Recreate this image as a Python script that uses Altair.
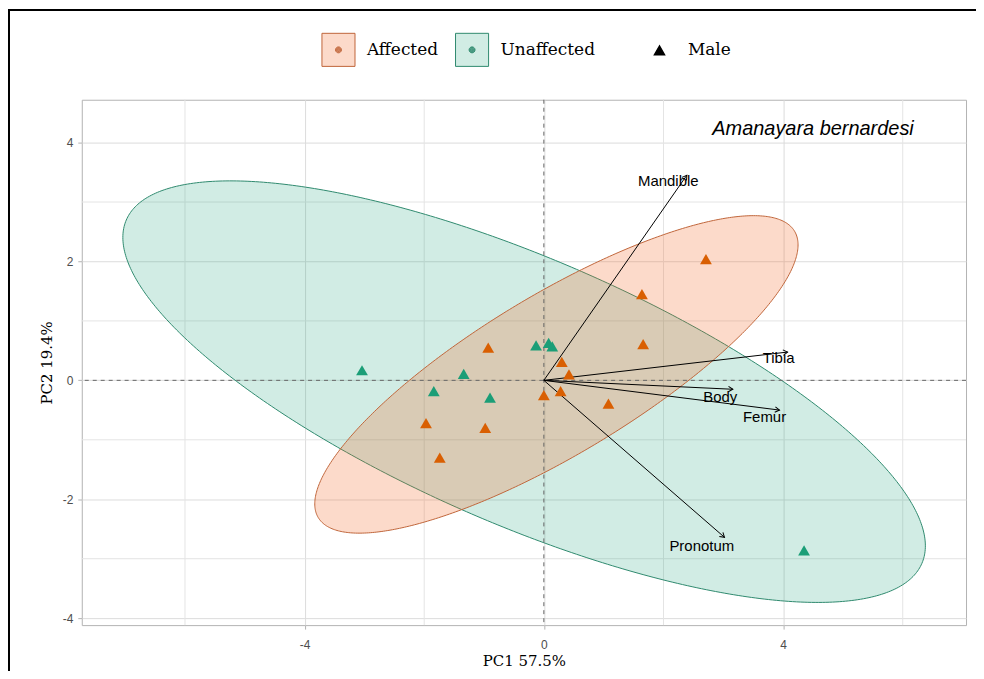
import altair as alt
import pandas as pd
import numpy as np

# ---------------- data ----------------
groups = ["Affected", "Unaffected"]
dark_cols = ["#D95F02", "#1B9E77"]
line_cols = ["#C0653A", "#2F8A6E"]
fill_cols = ["rgba(243,99,35,0.24)", "rgba(27,158,119,0.2)"]

aff_x = [2.71, 1.64, 1.66, 1.08, 0.30, 0.42, 0.28, 0.00, -0.93, -1.97, -0.98, -1.74]
aff_y = [2.04, 1.45, 0.61, -0.39, 0.31, 0.10, -0.18, -0.25, 0.55, -0.72, -0.80, -1.30]
una_x = [-3.04, -1.34, -1.84, -0.90, -0.13, 0.08, 0.14, 4.35]
una_y = [0.17, 0.11, -0.18, -0.29, 0.59, 0.63, 0.57, -2.86]

# ellipse (stat_ellipse) centres and covariance-like shape terms
ell_cx = [0.21, -0.33]
ell_cy = [0.10, -0.19]
ell_sxx = [16.32, 45.0]
ell_syy = [7.13, 12.57]
ell_sxy = [8.8, -17.4]

# variable loadings (arrow tips) and their label positions
var_names = ["Mandible", "Tibia", "Body", "Femur", "Pronotum"]
var_x = [2.39, 4.075, 3.16, 3.94, 3.02]
var_y = [3.45, 0.476, -0.15, -0.50, -2.64]
lab_x = [2.08, 3.925, 2.95, 3.69, 2.64]
lab_y = [3.36, 0.37, -0.28, -0.62, -2.78]

x_major = [-4, 0, 4]
x_minor = [-6, -2, 2, 6]
y_major = [-4, -2, 0, 2, 4]
y_minor = [-3, -1, 1, 3]
x_dom = [-7.725, 7.058]
y_dom = [-4.117, 4.72]

title_txt = "Amanayara bernardesi"
title_x, title_y = 4.5, 4.235

# ---------------- tables ----------------
pts = pd.DataFrame({
    "x": aff_x + una_x,
    "y": aff_y + una_y,
    "group": ["Affected"] * len(aff_x) + ["Unaffected"] * len(una_x),
    "sex": ["Male"] * (len(aff_x) + len(una_x)),
})

def ellipse_df(i):
    s = np.linspace(0, np.pi, 241)
    W = np.sqrt(ell_sxx[i])
    dx = -W * np.cos(s)
    mid = ell_cy[i] + ell_sxy[i] / ell_sxx[i] * dx
    half = np.sqrt(ell_syy[i] - ell_sxy[i] ** 2 / ell_sxx[i]) * np.sin(s)
    return pd.DataFrame({"x": ell_cx[i] + dx, "y": mid + half, "y2": mid - half,
                         "group": groups[i]})

arrows = pd.DataFrame({"name": var_names, "x0": 0.0, "y0": 0.0, "x": var_x, "y": var_y,
                       "lx": lab_x, "ly": lab_y})
arrows["ang"] = (np.degrees(np.arctan2(arrows["x"], arrows["y"])) + 360) % 360

xs = alt.Scale(domain=x_dom, nice=False, zero=False)
ys = alt.Scale(domain=y_dom, nice=False, zero=False)

X = lambda f="x", **k: alt.X(f"{f}:Q", scale=xs, **k)
Y = lambda f="y", **k: alt.Y(f"{f}:Q", scale=ys, **k)

def circ(r):
    return f"M{r},0A{r},{r},0,1,1,-{r},0A{r},{r},0,1,1,{r},0Z"

legend_path = ("M-1,-1H1V1H-1Z" + circ(0.18) + circ(0.14) + circ(0.10) + circ(0.06)
               + circ(0.02))

grp_legend = alt.Legend(orient="none", legendX=240, legendY=-68, direction="horizontal",
                        title=None, symbolType=legend_path, symbolSize=1100,
                        symbolStrokeWidth=1, labelFont="DejaVu Serif", labelFontSize=17,
                        labelColor="black", labelOffset=11, columnPadding=14, padding=0)

fill_enc = alt.Fill("group:N", scale=alt.Scale(domain=groups, range=fill_cols), legend=grp_legend)
stroke_enc = alt.Stroke("group:N", scale=alt.Scale(domain=groups, range=line_cols), legend=grp_legend)

# minor grid
minor_x = alt.Chart(pd.DataFrame({"v": x_minor})).mark_rule(color="#E4E4E4", strokeWidth=1).encode(
    x=alt.X("v:Q", scale=xs))
minor_y = alt.Chart(pd.DataFrame({"v": y_minor})).mark_rule(color="#E4E4E4", strokeWidth=1).encode(
    y=alt.Y("v:Q", scale=ys))

ell_green = alt.Chart(ellipse_df(1)).mark_area(strokeWidth=1, opacity=1).encode(
    x=X("x", axis=alt.Axis(values=x_major, title="PC1 57.5%", labelExpr="'' + datum.value",
                           labelPadding=10, titlePadding=4)),
    y=Y("y", axis=alt.Axis(values=y_major, title="PC2 19.4%", labelExpr="'' + datum.value",
                           labelPadding=5, titlePadding=8)),
    y2="y2:Q", fill=fill_enc, stroke=stroke_enc)
ell_orange = alt.Chart(ellipse_df(0)).mark_area(strokeWidth=1, opacity=1).encode(
    x=X("x"), y=Y("y"), y2="y2:Q", fill=fill_enc, stroke=stroke_enc)

zero_x = alt.Chart(pd.DataFrame({"v": [0]})).mark_rule(color="#666666", strokeDash=[4, 4], strokeWidth=1).encode(
    x=alt.X("v:Q", scale=xs))
zero_y = alt.Chart(pd.DataFrame({"v": [0]})).mark_rule(color="#666666", strokeDash=[4, 4], strokeWidth=1).encode(
    y=alt.Y("v:Q", scale=ys))

points = alt.Chart(pts).mark_point(filled=True, size=140, opacity=1).encode(
    x=X("x"), y=Y("y"),
    color=alt.Color("group:N", scale=alt.Scale(domain=groups, range=dark_cols), legend=None),
    shape=alt.Shape("sex:N", scale=alt.Scale(domain=["Male"], range=["triangle-up"]),
                    legend=alt.Legend(orient="none", legendX=571, legendY=-58, title=None,
                                      symbolFillColor="black", symbolStrokeColor="black",
                                      symbolSize=100, labelFont="DejaVu Serif", labelFontSize=17,
                                      labelColor="black", labelOffset=20, padding=0)),
)

arrow_lines = alt.Chart(arrows).mark_rule(color="black", strokeWidth=1).encode(
    x=X("x0"), y=Y("y0"), x2="x:Q", y2="y:Q")
arrow_heads = alt.Chart(arrows).mark_point(shape="M-0.55,0.9L0,0L0.55,0.9", filled=False,
                                           color="black", strokeWidth=1, size=100, opacity=1).encode(
    x=X("x"), y=Y("y"), angle=alt.Angle("ang:Q", scale=None))
arrow_labels = alt.Chart(arrows).mark_text(font="Liberation Sans", fontSize=15, color="black",
                                           baseline="middle", align="center").encode(
    x=X("lx"), y=Y("ly"), text="name:N")

title = alt.Chart(pd.DataFrame({"x": [title_x], "y": [title_y], "t": [title_txt]})).mark_text(
    font="Liberation Sans", fontSize=20, fontStyle="italic", color="black", baseline="middle",
    align="center").encode(x=X("x"), y=Y("y"), text="t:N")

frame = alt.Chart(pd.DataFrame({"a": [0]})).mark_rect(fill=None, stroke="black", strokeWidth=2).encode(
    x=alt.value(-73), x2=alt.value(1000), y=alt.value(-90), y2=alt.value(700))

chart = alt.layer(
    minor_x, minor_y, ell_green, ell_orange, zero_x, zero_y,
    arrow_lines, arrow_heads, points, arrow_labels, title, frame
).resolve_scale(fill="shared", stroke="shared").properties(
    width=887, height=527,
    autosize=alt.AutoSizeParams(type="none"),
    padding={"left": 74, "top": 91, "right": 10, "bottom": 45},
).configure_view(
    stroke="#B3B3B3", strokeWidth=1
).configure_axis(
    domain=False, grid=True, gridColor="#DCDCDC", gridWidth=1,
    tickColor="#B3B3B3", tickSize=4, labelFont="Liberation Sans", labelFontSize=12,
    labelColor="#4D4D4D", titleFont="DejaVu Serif", titleFontSize=15,
    titleFontWeight="normal", titleColor="black"
)

chart.save("out.html", embed_options={"renderer": "svg", "actions": False})
